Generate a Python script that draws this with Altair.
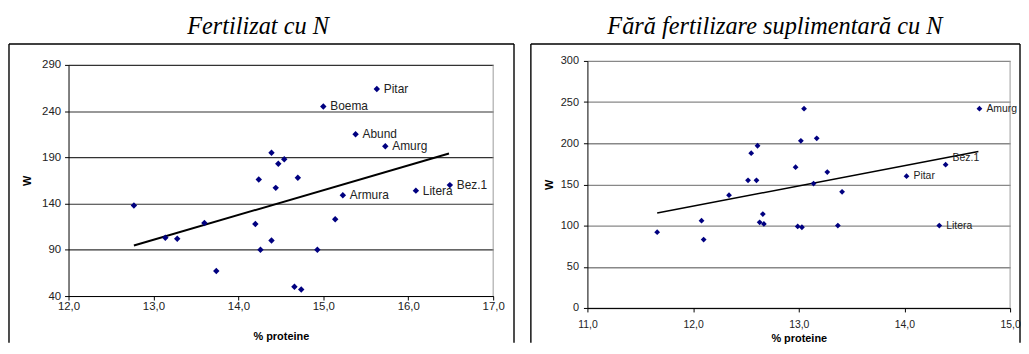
import altair as alt
import pandas as pd

# ---------------- data ----------------
title_left = "Fertilizat cu N"
title_right = "Fără fertilizare suplimentară cu N"
x_title = "% proteine"
y_title = "W"

left_protein = [12.77, 13.14, 13.28, 13.60, 13.74, 14.20, 14.24, 14.26, 14.39, 14.39,
                14.44, 14.47, 14.54, 14.66, 14.70, 14.74, 14.93, 15.00, 15.14, 15.23,
                15.38, 15.63, 15.73, 16.09, 16.49]
left_w = [138, 103, 102, 119, 67, 118, 166, 90, 195, 100,
          157, 183, 188, 50, 168, 47, 90, 245, 123, 149,
          215, 264, 202, 154, 160]
left_names = ["", "", "", "", "", "", "", "", "", "",
              "", "", "", "", "", "", "", "Boema", "", "Armura",
              "Abund", "Pitar", "Amurg", "Litera", "Bez.1"]
left_trend_protein = [12.77, 16.48]
left_trend_w = [94.7, 194.2]
left_xticks = [12, 13, 14, 15, 16, 17]
left_yticks = [40, 90, 140, 190, 240, 290]

right_protein = [11.66, 12.08, 12.10, 12.34, 12.52, 12.55, 12.60, 12.61, 12.63, 12.66,
                 12.67, 12.97, 12.99, 13.02, 13.03, 13.05, 13.14, 13.17, 13.27, 13.37,
                 13.41, 14.02, 14.33, 14.39, 14.71]
right_w = [92, 106, 83, 137, 155, 188, 155, 197, 104, 114,
           102, 171, 99, 203, 98, 242, 151, 206, 165, 100,
           141, 160, 100, 174, 242]
right_names = ["", "", "", "", "", "", "", "", "", "",
               "", "", "", "", "", "", "", "", "", "",
               "", "Pitar", "Litera", "Bez.1", "Amurg"]
right_trend_protein = [11.66, 14.70]
right_trend_w = [115.3, 190.0]
right_xticks = [11, 12, 13, 14, 15]
right_yticks = [0, 50, 100, 150, 200, 250, 300]

# ---------------- style ----------------
LBL_FONT = "Liberation Sans"
TTL_FONT = "Liberation Serif"
NAVY = "#000080"
LABEL_EXPR = "replace(format(datum.value, '.1f'), '.', ',')"
one = pd.DataFrame({"k": [0]})
FRAME_BOTTOM = 284


def panel(prot, w, names, tprot, tw, xticks, yticks, width, height, yrange,
          grid_color, grid_width, xlab_size, xlab_pad, ylab_size, ylab_pad,
          ytitle_x, xtitle_y, pt_size, name_size, raised, title, title_x,
          frame_left, frame_right, trend_width, anchor):
    df = pd.DataFrame({"p": prot, "w": w, "name": names})
    dft = pd.DataFrame({"p": tprot, "w": tw})
    dfb = pd.DataFrame({"p": [xticks[-1]], "w": [yticks[-1]], "w2": [yticks[0]]})

    yscale_args = dict(domain=[yticks[0], yticks[-1]], nice=False, zero=False)
    if yrange is not None:
        yscale_args["range"] = yrange
    x_enc = alt.X(
        "p:Q",
        scale=alt.Scale(domain=[xticks[0], xticks[-1]], nice=False, zero=False),
        axis=alt.Axis(values=xticks, labelExpr=LABEL_EXPR, grid=False,
                      labelFlush=False, labelOverlap=False,
                      domainColor="#000", domainWidth=1, tickColor="#000",
                      tickSize=4, tickWidth=1, labelPadding=xlab_pad,
                      labelFont=LBL_FONT, labelFontSize=xlab_size,
                      labelColor="#222", title=x_title, titleFont=LBL_FONT,
                      titleFontSize=11, titleFontWeight="bold", titleColor="#000",
                      titleX=width / 2, titleY=xtitle_y, titleBaseline="top",
                      titleAlign="center"),
    )
    y_enc = alt.Y(
        "w:Q",
        scale=alt.Scale(**yscale_args),
        axis=alt.Axis(values=yticks, grid=True, gridColor=grid_color,
                      labelFlush=False, labelOverlap=False,
                      gridWidth=grid_width, domainColor="#000", domainWidth=1,
                      tickColor="#000", tickSize=4, tickWidth=1,
                      labelPadding=ylab_pad, labelFont=LBL_FONT,
                      labelFontSize=ylab_size, labelColor="#222",
                      title=y_title, titleFont=LBL_FONT, titleFontSize=11,
                      titleFontWeight="bold", titleColor="#000",
                      titleX=ytitle_x,
                      titleY=(yrange[1] + yrange[0]) / 2 if yrange else height / 2,
                      titleAngle=270, titleBaseline="middle", titleAlign="center"),
    )

    layers = []
    if anchor:
        layers.append(alt.Chart(one).mark_rect(color="white").encode(
            x=alt.value(frame_left - 1), x2=alt.value(frame_left),
            y=alt.value(-52), y2=alt.value(-51)))

    # outer frame of the chart area
    layers.append(alt.Chart(one).mark_rule(color="#000", strokeWidth=1.4).encode(
        x=alt.value(frame_left), y=alt.value(-17), y2=alt.value(FRAME_BOTTOM)))
    layers.append(alt.Chart(one).mark_rule(color="#000", strokeWidth=1.4).encode(
        x=alt.value(frame_left), x2=alt.value(frame_right), y=alt.value(-17)))
    if frame_right < width + 40:
        layers.append(alt.Chart(one).mark_rule(color="#000", strokeWidth=1.4).encode(
            x=alt.value(frame_right), y=alt.value(-17), y2=alt.value(FRAME_BOTTOM)))

    # right border of plot area
    layers.append(alt.Chart(dfb).mark_rule(color="#9a9a9a", strokeWidth=1).encode(
        x=x_enc, y=y_enc, y2="w2:Q"))

    layers.append(alt.Chart(dft).mark_line(color="#000", strokeWidth=trend_width).encode(
        x=x_enc, y=y_enc))

    pts = alt.Chart(df).mark_point(shape="diamond", filled=True, color=NAVY,
                                   size=pt_size, opacity=1).encode(x=x_enc, y=y_enc)
    layers.append(pts)

    cond_plain = "datum.name != ''" + "".join(
        [" && datum.name != '%s'" % r for r in raised])
    layers.append(alt.Chart(df).transform_filter(cond_plain).mark_text(
        align="left", baseline="middle", dx=7, font=LBL_FONT, fontSize=name_size,
        color="#222").encode(x=x_enc, y=y_enc, text="name:N"))
    if raised:
        cond_r = " || ".join(["datum.name == '%s'" % r for r in raised])
        layers.append(alt.Chart(df).transform_filter(cond_r).mark_text(
            align="left", baseline="middle", dx=7, dy=-7, font=LBL_FONT,
            fontSize=name_size, color="#222").encode(x=x_enc, y=y_enc, text="name:N"))

    layers.append(alt.Chart(pd.DataFrame({"t": [title]})).mark_text(
        font=TTL_FONT, fontSize=24.5, fontStyle="italic", align="center",
        baseline="alphabetic", color="#000").encode(
        text="t:N", x=alt.value(title_x), y=alt.value(-27)))

    return alt.layer(*layers).properties(width=width, height=height)


left = panel(left_protein, left_w, left_names, left_trend_protein, left_trend_w,
             left_xticks, left_yticks, width=428, height=237, yrange=[237, 4],
             grid_color="#333", grid_width=1.1, xlab_size=11.5, xlab_pad=1,
             ylab_size=11.5, ylab_pad=4, ytitle_x=-41, xtitle_y=35, pt_size=42,
             name_size=12, raised=[], title=title_left, title_x=191,
             frame_left=-60, frame_right=449, trend_width=2, anchor=True)

right = panel(right_protein, right_w, right_names, right_trend_protein, right_trend_w,
              right_xticks, right_yticks, width=426, height=249, yrange=None,
              grid_color="#888", grid_width=1.4, xlab_size=10.5, xlab_pad=7.5,
              ylab_size=11, ylab_pad=5, ytitle_x=-38, xtitle_y=25, pt_size=34,
              name_size=10.5, raised=["Bez.1"], title=title_right, title_x=189,
              frame_left=-57, frame_right=436, trend_width=1.5, anchor=False)

chart = alt.hconcat(left, right, spacing=95, bounds="flush").properties(
    padding=0, background="white"
).configure_view(strokeWidth=0)

chart.save("out.html", embed_options={"renderer": "svg", "actions": False})
